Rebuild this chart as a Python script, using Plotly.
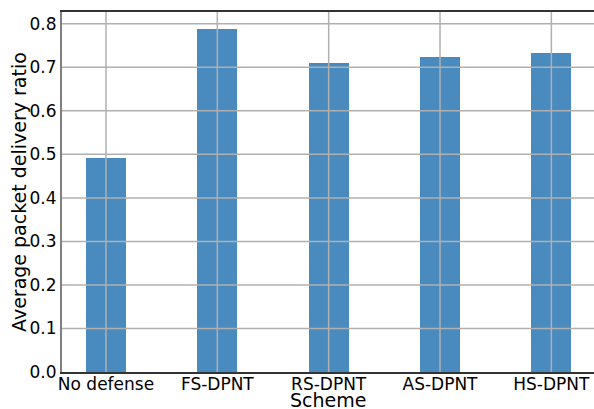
import plotly.graph_objects as go

schemes = ["No defense", "FS-DPNT", "RS-DPNT", "AS-DPNT", "HS-DPNT"]
pdr = [0.4915, 0.7887, 0.7104, 0.7242, 0.7334]
y_ticks = [0.0, 0.1, 0.2, 0.3, 0.4, 0.5, 0.6, 0.7, 0.8]
x_title = "Scheme"
y_title = "Average packet delivery ratio"

bar_color = "#4a8bbf"
grid_color = "#b0b0b0"
font_family = "DejaVu Sans, sans-serif"

fig = go.Figure()
fig.add_trace(go.Bar(x=schemes, y=pdr, width=0.36, marker=dict(color=bar_color, line=dict(width=0))))

shapes = []
for t in y_ticks[1:]:
    shapes.append(dict(type="line", xref="paper", yref="y", x0=0, x1=1, y0=t, y1=t,
                       line=dict(color=grid_color, width=1.5), layer="above"))
for s in schemes:
    shapes.append(dict(type="line", xref="x", yref="paper", x0=s, x1=s, y0=0, y1=1,
                       line=dict(color=grid_color, width=1.5), layer="above"))

annotations = [
    dict(text=x_title, xref="paper", yref="paper", x=0.5, y=0, yshift=-28,
         xanchor="center", yanchor="middle", showarrow=False, font=dict(size=19)),
    dict(text=y_title, xref="paper", yref="paper", x=0, y=0.5, xshift=-43,
         xanchor="center", yanchor="middle", textangle=-90, showarrow=False, font=dict(size=19)),
]

fig.update_layout(
    width=594, height=409,
    margin=dict(l=62, r=0, t=12, b=37),
    paper_bgcolor="white", plot_bgcolor="white",
    font=dict(family=font_family, size=17, color="black"),
    showlegend=False,
    shapes=shapes,
    annotations=annotations,
    bargap=0,
)
fig.update_xaxes(
    type="category", range=[-0.395, 4.383],
    showgrid=False, showline=True, mirror=True, linecolor="#333333", linewidth=1.5,
    ticks="", tickfont=dict(size=17), automargin=False, ticklabelstandoff=-4,
)
fig.update_yaxes(
    range=[0, 0.827], tickvals=y_ticks, tickformat=".1f",
    showgrid=False, zeroline=False, showline=True, linecolor="#808080", linewidth=2,
    ticks="", tickfont=dict(size=17), automargin=False,
)
fig.write_html("out.html", config={"displayModeBar": False},
               post_script="document.body.style.margin='0';")
